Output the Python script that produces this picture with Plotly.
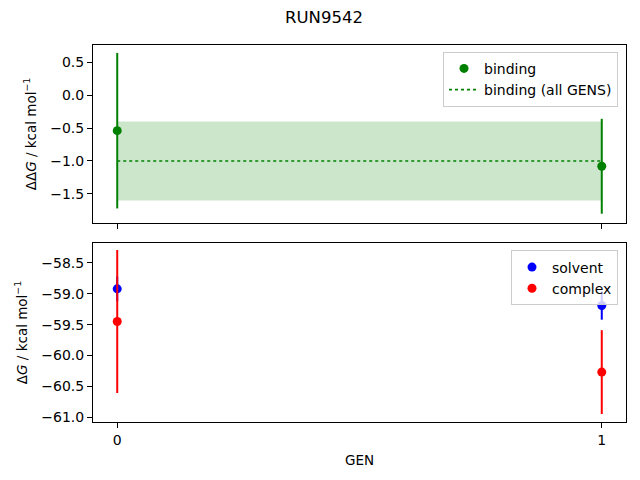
import plotly.graph_objects as go
from plotly.subplots import make_subplots

# values
gens = [0, 1]
binding = [-0.54, -1.08]
binding_err = [1.18, 0.72]
binding_all = -1.0
binding_all_err = 0.6
solvent = [-58.92, -59.19]
solvent_err = [0.2, 0.23]
complex_dg = [-59.45, -60.27]
complex_err = [1.16, 0.68]

fig = make_subplots(rows=2, cols=1, shared_xaxes=True, vertical_spacing=0.053)

# shaded band for the all-GENS estimate
fig.add_trace(go.Scatter(x=gens, y=[binding_all + binding_all_err] * len(gens), mode="lines",
                         line=dict(width=0), showlegend=False, hoverinfo="skip"), row=1, col=1)
fig.add_trace(go.Scatter(x=gens, y=[binding_all - binding_all_err] * len(gens), mode="lines",
                         line=dict(width=0), fill="tonexty", fillcolor="rgba(0,128,0,0.2)",
                         showlegend=False, hoverinfo="skip"), row=1, col=1)

fig.add_trace(go.Scatter(x=gens, y=binding, mode="markers", name="binding",
                         marker=dict(color="green", size=9),
                         error_y=dict(type="data", array=binding_err, color="green", thickness=2, width=0),
                         legend="legend"), row=1, col=1)
fig.add_trace(go.Scatter(x=gens, y=[binding_all] * len(gens), mode="lines", name="binding (all GENS)",
                         line=dict(color="green", dash="dot", width=1.6),
                         legend="legend"), row=1, col=1)

fig.add_trace(go.Scatter(x=gens, y=solvent, mode="markers", name="solvent",
                         marker=dict(color="blue", size=9),
                         error_y=dict(type="data", array=solvent_err, color="blue", thickness=2, width=0),
                         legend="legend2"), row=2, col=1)
fig.add_trace(go.Scatter(x=gens, y=complex_dg, mode="markers", name="complex",
                         marker=dict(color="red", size=9),
                         error_y=dict(type="data", array=complex_err, color="red", thickness=2, width=0),
                         legend="legend2"), row=2, col=1)

ax = dict(showline=True, mirror=True, linecolor="black", linewidth=1, ticks="outside",
          ticklen=5, tickcolor="black", showgrid=False, zeroline=False,
          tickfont=dict(size=14, color="black"))

fig.update_xaxes(**ax, range=[-0.05, 1.05], tickvals=gens)
fig.update_xaxes(showticklabels=False, row=1, col=1)
fig.update_xaxes(title=dict(text="GEN", font=dict(size=13.5, color="black"), standoff=8), row=2, col=1)
fig.update_yaxes(**ax)
fig.update_yaxes(range=[-1.94, 0.76], dtick=0.5, tickformat=".1f",
                 title=dict(text="ΔΔ<i>G</i> / kcal mol<sup>−1</sup>", font=dict(size=13.5, color="black"), standoff=10),
                 row=1, col=1)
fig.update_yaxes(range=[-61.08, -58.175], dtick=0.5, tickformat=".1f",
                 title=dict(text="Δ<i>G</i> / kcal mol<sup>−1</sup>", font=dict(size=13.5, color="black"), standoff=10),
                 row=2, col=1)

# page adds an 8px body margin, so the figure is a bit smaller and shifted
fig.update_layout(
    width=632, height=472,
    margin=dict(l=85, r=14, t=37, b=58),
    plot_bgcolor="white", paper_bgcolor="white",
    font=dict(family="DejaVu Sans", color="black"),
    title=dict(text="RUN9542", x=0.5, xanchor="center", y=0.981, yanchor="middle",
               font=dict(size=16.5, color="black")),
    legend=dict(x=0.985, y=0.982, xanchor="right", yanchor="top", bgcolor="rgba(255,255,255,0.8)",
                bordercolor="#cccccc", borderwidth=1, font=dict(size=14), traceorder="normal"),
    legend2=dict(x=0.985, y=0.455, xanchor="right", yanchor="top", bgcolor="rgba(255,255,255,0.8)",
                 bordercolor="#cccccc", borderwidth=1, font=dict(size=14), traceorder="normal"),
)
fig.update_xaxes(domain=[0, 1])
fig.update_yaxes(domain=[0.528, 1], row=1, col=1)
fig.update_yaxes(domain=[0, 0.475], row=2, col=1)

fig.write_html("out.html")
